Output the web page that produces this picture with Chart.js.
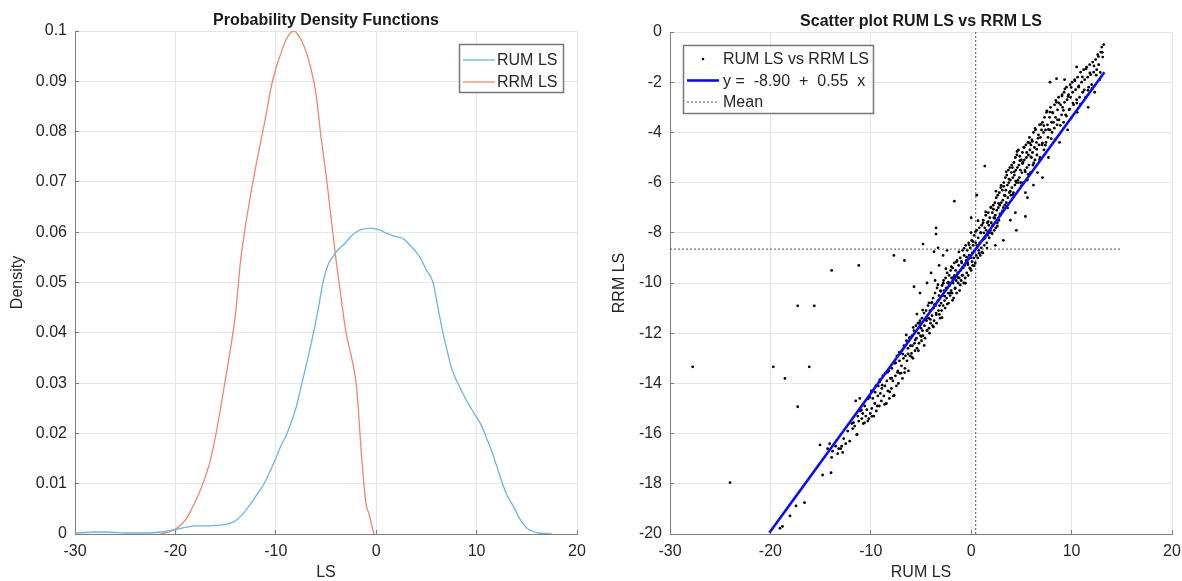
<!DOCTYPE html>
<html>
<head>
<meta charset="utf-8">
<title>RUM LS vs RRM LS</title>
<style>
  html, body { margin: 0; padding: 0; background: #fff; }
  body { width: 1182px; height: 581px; position: relative; overflow: hidden; }
  canvas { position: absolute; top: 0; }
  #pdfChart { left: 0; }
  #scatterChart { left: 591px; }
</style>
</head>
<body>
<canvas id="pdfChart" width="591" height="581"></canvas>
<canvas id="scatterChart" width="591" height="581"></canvas>
<script src="https://cdn.jsdelivr.net/npm/chart.js@4"></script>
<script>
// ---- data ----
const rumX = [-30,-29,-28,-27,-26,-25,-24,-23,-22,-21,-20,-19,-18,-17,-16,-15,-14.2,-13.5,-13,-12.5,-12,-11.2,-10.5,-10,-9.5,-8.9,-8,-7.4,-6.8,-6.25,-5.75,-5.3,-4.8,-4.3,-3.8,-3.2,-2.5,-2,-1.5,-0.5,0,0.5,1,1.5,2,2.7,3.4,4,4.5,5,5.66,6.15,6.65,7,7.5,8,8.5,9,9.5,10,10.5,11,11.5,12,12.6,13,13.7,14.3,15,15.5,16.2,17,17.5];
const rumDensity = [0.0002,0.0003,0.0004,0.0004,0.0003,0.0002,0.0002,0.0002,0.0003,0.0005,0.0009,0.0013,0.0016,0.0016,0.0017,0.0019,0.0024,0.0035,0.0047,0.006,0.0075,0.0099,0.0128,0.015,0.0175,0.0199,0.025,0.030,0.035,0.040,0.045,0.050,0.0535,0.0552,0.0565,0.0576,0.0592,0.060,0.0605,0.0608,0.0606,0.0603,0.0598,0.0594,0.0591,0.0587,0.0573,0.056,0.0545,0.0525,0.050,0.045,0.040,0.037,0.033,0.0305,0.0285,0.0265,0.0248,0.0232,0.0215,0.019,0.0165,0.0135,0.0099,0.0078,0.0054,0.003,0.0012,0.0006,0.0002,0.0001,0];

const rrmX = [-21.5,-21,-20.5,-20,-19.5,-19,-18.5,-18,-17.5,-17,-16.5,-16,-15.5,-15,-14.5,-14,-13.5,-13,-12.5,-12,-11.5,-11,-10.5,-10,-9.5,-9,-8.5,-8.2,-8,-7.5,-7,-6.5,-6,-5.5,-5,-4.5,-4,-3.5,-3,-2.5,-2,-1.75,-1.5,-1.25,-1,-0.75,-0.5,-0.3,-0.2];
const rrmDensity = [0,0.0002,0.0005,0.001,0.0017,0.0028,0.0045,0.0065,0.0088,0.0115,0.0148,0.0195,0.025,0.031,0.037,0.044,0.0545,0.0615,0.0675,0.073,0.078,0.083,0.0885,0.0925,0.0955,0.0982,0.0997,0.1,0.0998,0.0983,0.096,0.0925,0.0875,0.079,0.0715,0.063,0.0545,0.047,0.040,0.0355,0.030,0.024,0.0165,0.0105,0.0058,0.0042,0.0022,0.0006,0];

// [RUM LS, RRM LS]
const scatterPairs = [
  [-19.05,-19.77],[-18.8,-19.7],[-18.05,-19.28],[-17.45,-18.88],[-16.6,-18.75],[-14.8,-17.65],[-13.96,-17.56],[-13.9,-16.95],
  [-15.06,-16.45],[-14.3,-16.6],[-14.1,-16.4],[-13.8,-16.7],[-13.5,-16.5],[-13.3,-16.8],[-13.2,-16.6],[-13.0,-16.6],[-12.8,-16.75],
  [-12.9,-16.5],[-12.7,-16.2],[-12.5,-16.4],[-12.3,-15.9],[-12.1,-16.3],
  [-11.9,-15.6],[-11.8,-15.8],[-11.6,-15.7],[-11.5,-14.7],[-11.4,-16.05],[-11.3,-15.3],[-11.2,-15.5],[-11.1,-14.6],[-11.05,-15.1],
  [-10.9,-15.4],[-10.8,-15.2],[-10.75,-15.6],[-10.6,-14.9],[-10.5,-15.3],[-10.4,-15.05],[-10.3,-15.5],[-10.2,-15.4],[-10.1,-14.55],[-10.05,-15.2],
  [-9.95,-14.3],[-9.9,-15.0],[-9.8,-14.6],[-9.7,-15.3],[-9.6,-14.8],[-9.5,-14.1],[-9.45,-15.1],[-9.3,-14.5],[-9.25,-14.1],[-9.15,-14.9],[-9.1,-13.85],[-9.05,-14.4],
  [-8.95,-14.7],[-8.9,-14.2],[-8.8,-13.7],[-8.7,-14.5],[-8.6,-14.1],[-8.55,-13.6],[-8.45,-14.8],[-8.4,-13.9],[-8.3,-14.3],[-8.2,-13.5],[-8.15,-14.6],[-8.05,-13.8],
  [-7.95,-14.2],[-7.9,-13.4],[-7.8,-13.9],[-7.75,-14.5],[-7.6,-13.2],[-7.55,-13.7],[-7.45,-14.1],[-7.4,-12.9],[-7.3,-13.5],[-7.25,-14.0],[-7.15,-13.1],[-7.1,-13.6],[-7.05,-12.8],
  [-6.95,-13.3],[-6.9,-12.7],[-6.85,-13.8],[-6.75,-13.0],[-6.7,-12.5],[-6.6,-13.4],[-6.55,-12.9],[-6.45,-12.3],[-6.4,-13.1],[-6.3,-12.6],[-6.25,-13.5],[-6.15,-12.2],[-6.1,-12.9],[-6.05,-12.5],
  [-5.95,-12.8],[-5.9,-12.1],[-5.85,-12.5],[-5.8,-13.0],[-5.7,-11.9],[-5.65,-12.4],[-5.6,-12.7],[-5.5,-11.7],[-5.45,-12.2],[-5.4,-12.6],[-5.3,-11.6],[-5.25,-12.0],[-5.2,-12.4],[-5.1,-11.5],[-5.05,-12.1],[-5.0,-11.8],
  [-4.95,-12.3],[-4.9,-11.4],[-4.85,-11.9],[-4.8,-12.1],[-4.7,-11.2],[-4.65,-11.7],[-4.6,-12.2],[-4.5,-11.1],[-4.45,-11.5],[-4.4,-11.9],[-4.3,-10.9],[-4.25,-11.4],[-4.2,-11.8],[-4.15,-12.0],[-4.1,-11.1],[-4.05,-11.6],
  [-3.95,-10.8],[-3.9,-11.3],[-3.85,-11.7],[-3.8,-10.6],[-3.75,-11.0],[-3.7,-11.5],[-3.6,-10.4],[-3.55,-10.9],[-3.5,-11.2],[-3.45,-11.6],[-3.4,-10.2],[-3.3,-10.7],[-3.25,-11.1],[-3.2,-10.5],[-3.15,-10.9],[-3.1,-11.4],[-3.05,-10.3],[-3.0,-10.8],
  [-2.95,-11.1],[-2.9,-10.1],[-2.85,-10.5],[-2.8,-10.9],[-2.75,-9.9],[-2.7,-10.3],[-2.65,-10.7],[-2.6,-11.0],[-2.55,-9.8],[-2.5,-10.2],[-2.45,-10.6],[-2.4,-9.6],[-2.35,-10.0],[-2.3,-10.4],[-2.25,-10.8],[-2.2,-9.7],[-2.15,-10.1],[-2.1,-10.5],[-2.05,-9.5],[-2.0,-10.3],
  [-1.95,-9.8],[-1.9,-10.4],[-1.85,-9.4],[-1.8,-10.0],[-1.75,-10.6],[-1.7,-9.2],[-1.65,-9.7],[-1.6,-10.2],[-1.55,-9.5],[-1.5,-9.9],[-1.45,-10.4],[-1.4,-9.1],[-1.35,-9.6],[-1.3,-10.0],[-1.25,-9.3],[-1.2,-9.8],[-1.15,-10.3],[-1.1,-9.0],[-1.05,-9.5],[-1.0,-9.9],
  [-0.95,-9.2],[-0.9,-9.7],[-0.85,-8.7],[-0.8,-9.4],[-0.75,-10.0],[-0.7,-8.9],[-0.65,-9.3],[-0.6,-9.8],[-0.55,-8.5],[-0.5,-9.1],[-0.45,-9.6],[-0.4,-8.7],[-0.35,-9.2],[-0.3,-9.7],[-0.25,-8.4],[-0.2,-8.9],[-0.15,-9.4],[-0.1,-8.6],[-0.05,-9.0],[0.0,-9.5],
  [0.05,-8.3],[0.1,-8.8],[0.15,-9.3],[0.2,-8.5],[0.25,-9.0],[0.3,-8.1],[0.35,-8.7],[0.4,-9.2],[0.45,-8.4],[0.5,-8.9],[0.55,-7.9],[0.6,-8.5],[0.65,-9.0],[0.7,-8.2],[0.75,-8.7],[0.8,-7.8],[0.85,-8.4],[0.9,-8.9],[0.95,-8.0],[1.0,-8.6],
  [1.05,-7.7],[1.1,-8.3],[1.15,-8.8],[1.2,-7.5],[1.25,-8.0],[1.3,-8.5],[1.35,-7.8],[1.4,-8.2],[1.45,-7.3],[1.5,-7.9],[1.55,-8.4],[1.6,-7.6],[1.65,-8.1],[1.7,-7.2],[1.75,-7.7],[1.8,-8.2],[1.85,-7.4],[1.9,-7.9],[1.95,-7.0],[2.0,-7.6],
  [2.05,-8.0],[2.1,-7.2],[2.15,-7.7],[2.2,-6.9],[2.25,-7.4],[2.3,-7.9],[2.35,-6.8],[2.4,-7.3],[2.45,-7.8],[2.5,-6.6],[2.55,-7.1],[2.6,-7.6],[2.65,-6.5],[2.7,-7.0],[2.75,-7.5],[2.8,-6.4],[2.85,-6.9],[2.9,-7.3],[2.95,-6.2],[3.0,-6.8],
  [3.05,-7.2],[3.1,-6.3],[3.15,-6.7],[3.2,-7.0],[3.25,-6.0],[3.3,-6.5],[3.35,-6.9],[3.4,-5.8],[3.45,-6.3],[3.5,-6.8],[3.55,-5.7],[3.6,-6.1],[3.65,-6.6],[3.7,-5.5],[3.75,-6.0],[3.8,-6.4],[3.85,-5.4],[3.9,-5.9],[3.95,-6.5],[4.0,-5.6],
  [4.05,-6.2],[4.1,-5.4],[4.15,-5.8],[4.2,-6.4],[4.25,-5.2],[4.3,-5.7],[4.35,-6.1],[4.4,-5.0],[4.45,-5.5],[4.5,-6.0],[4.55,-4.9],[4.6,-5.4],[4.65,-5.9],[4.7,-4.7],[4.75,-5.3],[4.8,-5.8],[4.85,-4.95],[4.9,-5.5],[4.95,-6.0],[5.0,-5.1],
  [5.05,-5.6],[5.1,-4.8],[5.15,-5.2],[5.2,-6.0],[5.25,-4.6],[5.3,-5.1],[5.35,-5.5],[5.4,-6.4],[5.45,-4.5],[5.5,-5.0],[5.55,-5.4],[5.6,-5.9],[5.65,-4.4],[5.7,-4.9],[5.75,-5.3],[5.8,-4.2],[5.85,-4.7],[5.9,-5.6],[5.95,-4.5],[6.0,-5.0],
  [6.05,-4.3],[6.1,-4.8],[6.15,-5.3],[6.2,-4.0],[6.3,-4.6],[6.35,-5.1],[6.4,-3.9],[6.5,-4.4],[6.55,-4.9],[6.6,-5.6],[6.7,-4.1],[6.75,-4.5],[6.8,-3.7],[6.85,-5.0],[6.9,-4.2],[7.0,-3.9],
  [7.05,-4.5],[7.1,-3.6],[7.2,-4.0],[7.25,-4.7],[7.3,-3.4],[7.4,-3.9],[7.45,-4.4],[7.5,-3.2],[7.6,-3.7],[7.65,-4.2],[7.7,-5.0],[7.8,-3.4],[7.85,-3.9],[7.9,-3.0],[8.0,-3.6],
  [8.05,-4.0],[8.1,-3.2],[8.2,-3.6],[8.3,-2.9],[8.35,-4.3],[8.4,-3.4],[8.5,-2.8],[8.55,-3.7],[8.6,-3.1],[8.7,-2.6],[8.75,-3.5],[8.8,-4.4],[8.9,-2.9],[9.0,-3.3],
  [9.05,-2.5],[9.1,-3.0],[9.2,-3.6],[9.25,-2.4],[9.3,-2.8],[9.4,-3.3],[9.5,-2.2],[9.55,-2.7],[9.6,-3.9],[9.7,-2.5],[9.75,-3.1],[9.85,-2.1],[9.9,-2.6],[10.0,-3.4],
  [10.05,-2.0],[10.1,-2.4],[10.2,-2.9],[10.3,-1.9],[10.4,-2.3],[10.5,-2.7],[10.55,-3.2],[10.6,-1.8],[10.7,-2.2],[10.8,-2.6],[10.9,-1.6],[11.0,-2.0],
  [11.1,-2.4],[11.2,-1.5],[11.3,-1.9],[11.4,-2.6],[11.5,-1.4],[11.6,-1.8],[11.65,-3.0],[11.7,-2.2],[11.8,-1.3],[11.9,-1.7],[12.0,-2.1],
  [12.1,-1.2],[12.2,-1.6],[12.3,-2.4],[12.4,-1.1],[12.5,-1.5],[12.6,-0.9],[12.7,-1.3],[12.8,-1.9],[12.9,-0.8],[13.0,-0.6],[13.1,-1.0],[13.2,-0.5],
  [-11.72,-15.56],[-11.37,-16.03],[-10.94,-15.06],[-10.63,-15.57],[-10.27,-14.62],[-9.88,-15.31],[-9.57,-14.35],[-9.36,-14.9],[-9.12,-13.93],
  [-8.87,-14.07],[-8.62,-14.83],[-8.33,-13.56],[-8.11,-14.34],[-7.93,-13.79],[-7.68,-14.47],[-7.52,-13.18],[-7.34,-13.56],[-7.17,-12.76],[-6.98,-13.59],
  [-6.81,-12.83],[-6.63,-13.57],[-6.47,-12.07],[-6.29,-12.82],[-6.12,-12.17],
  [-5.93,-12.94],[-5.77,-11.77],[-5.58,-12.27],[-5.41,-11.24],[-5.26,-12.7],[-5.12,-11.61],[-4.97,-12.13],[-4.83,-11.08],[-4.68,-12.49],[-4.54,-11.45],
  [-4.39,-11.89],[-4.21,-10.79],[-4.07,-11.45],[-3.92,-10.77],[-3.76,-11.75],[-3.63,-10.85],[-3.48,-11.26],[-3.31,-10.07],[-3.17,-11.25],[-3.04,-10.33],
  [-2.91,-11.38],[-2.78,-10.01],[-2.64,-10.52],[-2.52,-9.43],[-2.39,-10.84],[-2.27,-9.97],[-2.13,-10.4],[-1.98,-9.35],[-1.86,-10.69],[-1.73,-9.76],
  [-1.61,-10.22],[-1.47,-9.16],[-1.34,-9.78],[-1.22,-8.76],[-1.09,-10.08],[-0.96,-9.14],[-0.84,-9.69],[-0.71,-8.62],[-0.58,-10.01],[-0.46,-8.97],
  [-0.33,-9.27],[-0.21,-8.48],[-0.08,-9.43],[-0.02,-7.99],
  [0.09,-9.15],[0.18,-8.35],[0.31,-9.31],[0.42,-7.96],[0.57,-8.59],[0.68,-7.52],[0.79,-8.81],[0.93,-7.99],[1.07,-8.77],[1.18,-7.61],
  [1.31,-8.24],[1.44,-7.17],[1.58,-8.61],[1.69,-7.56],[1.82,-8.0],[1.96,-6.98],[2.09,-8.04],[2.21,-7.06],[2.34,-7.42],[2.47,-6.34],
  [2.61,-7.73],[2.73,-6.83],[2.86,-7.25],[2.98,-6.11],
  [3.12,-7.13],[3.24,-6.15],[3.37,-6.52],[3.49,-5.57],[3.62,-7.01],[3.76,-5.86],[3.88,-6.34],[4.03,-5.3],[4.16,-6.47],[4.29,-5.57],
  [4.43,-5.94],[4.57,-4.76],[4.71,-6.0],[4.84,-5.13],[4.98,-6.13],[5.11,-5.24],[5.26,-4.59],[5.39,-5.57],[5.53,-4.8],[5.67,-5.67],
  [5.81,-4.42],[5.94,-4.98],
  [6.08,-4.36],[6.23,-5.22],[6.37,-3.84],[6.52,-4.67],[6.66,-4.23],[6.81,-5.09],[6.94,-3.68],[7.09,-4.43],[7.23,-3.73],[7.38,-4.51],
  [7.54,-3.14],[7.69,-3.88],[7.83,-3.19],[7.97,-4.25],[8.14,-3.23],[8.28,-3.83],[8.43,-2.73],[8.59,-3.5],[8.74,-2.82],[8.88,-3.72],
  [9.04,-2.55],[9.18,-3.12],[9.33,-2.27],[9.49,-3.35],[9.64,-2.57],[9.81,-3.07],[9.96,-2.21],
  [10.14,-2.83],[10.33,-1.95],[10.52,-2.83],[10.71,-2.15],[10.89,-2.87],[11.07,-1.79],[11.26,-2.31],[11.44,-1.47],[11.63,-2.32],[11.82,-1.63],
  [12.04,-2.24],[12.23,-1.35],[12.45,-1.72],[12.67,-0.98],[12.86,-1.61],[13.05,-0.81],
  [7.85,-2.0],[8.5,-1.86],[9.3,-1.9],[10.5,-1.39],
  [1.35,-5.34],[-1.68,-6.74],[0.55,-6.5],[0.0,-7.4],[-3.5,-7.8],[-3.5,-8.05],[-7.7,-8.9],[-6.65,-9.1],[-5.7,-10.15],[-5.1,-10.4],
  [-11.2,-9.3],[-13.9,-9.5],[-4.8,-8.45],[-3.7,-8.75],[-3.3,-8.6],[-4.0,-9.6],[-3.2,-9.3],[-2.8,-8.9],[-2.4,-8.7],[-3.6,-9.9],[-4.4,-10.0],
  [6.2,-6.1],[7.1,-5.8],[5.6,-6.6],[3.5,-7.0],[3.9,-7.5],[4.4,-7.2],[5.4,-7.35],[2.4,-8.5],[3.2,-8.3],[4.5,-7.9],
  [-27.74,-13.34],[-19.71,-13.34],[-18.55,-13.8],[-17.28,-10.91],[-15.63,-10.91],[-16.13,-13.34],[-17.28,-14.93],[-24.02,-17.95]
];

const fitB0 = -8.90;
const fitB1 = 0.55;
const fitLineX = [-20.1, 13.27];
const fitLineY = [-19.95, -1.6];
const meanRum = 0.45;
const meanRrm = -8.65;

// ---- styling ----
const FONT = '"Liberation Sans", Arial, Helvetica, sans-serif';
const TEXT = '#262626';
const AXIS = '#7d7d7d';
const GRID = '#e6e6e6';
const BLUE_PDF = '#6db3e3';
const ORANGE_PDF = '#f0876a';

function toPoints(xs, ys) { return xs.map((x, i) => ({ x: x, y: ys[i] })); }

function axis(min, max, step, title, titlePad, isY, fmt) {
  return {
    type: 'linear', min: min, max: max,
    ticks: { stepSize: step, padding: 12, color: TEXT, font: { family: FONT, size: 16 },
             maxRotation: 0, autoSkip: false, callback: fmt },
    grid: { color: GRID, lineWidth: 1, drawTicks: true, tickLength: -4, tickColor: AXIS, tickWidth: 1 },
    border: { color: AXIS, width: 1 },
    title: { display: true, text: title, color: TEXT, font: { family: FONT, size: 16, lineHeight: 1 }, padding: titlePad },
    afterFit: s => {
      if (isY) { s.width = s.chart.options.layout.padding.axisW; s.paddingTop = 0; s.paddingBottom = 0; }
      else { s.height = 47; s.paddingLeft = 0; s.paddingRight = 0; }
    }
  };
}

// title + legend drawn inside the axes, MATLAB style
function decor(title, legend) {
  return {
    id: 'decor',
    afterDraw(chart) {
      const ctx = chart.ctx, a = chart.chartArea;
      ctx.save();
      ctx.font = 'bold 16px ' + FONT;
      ctx.fillStyle = '#1a1a1a';
      ctx.textAlign = 'center';
      ctx.textBaseline = 'middle';
      ctx.fillText(title, (a.left + a.right) / 2, a.top - 10);

      const bx = legend.right !== undefined ? a.right - legend.right - legend.w : a.left + legend.left;
      const by = a.top + legend.top;
      ctx.fillStyle = '#fff';
      ctx.fillRect(bx, by, legend.w, legend.h);
      ctx.strokeStyle = '#767676';
      ctx.lineWidth = 1.5;
      ctx.strokeRect(bx + 0.5, by + 0.5, legend.w, legend.h);
      ctx.font = '16px ' + FONT;
      ctx.textAlign = 'left';
      legend.rows.forEach((r, i) => {
        const ry = by + legend.firstRow + i * legend.rowGap;
        const x1 = bx + 4, x2 = bx + 36;
        ctx.strokeStyle = r.color;
        ctx.fillStyle = r.color;
        ctx.lineWidth = r.width || 1;
        if (r.kind === 'dot') {
          ctx.beginPath(); ctx.arc((x1 + x2) / 2, ry, 1.3, 0, Math.PI * 2); ctx.fill();
        } else {
          ctx.setLineDash(r.kind === 'dotted' ? [2, 2] : []);
          ctx.beginPath(); ctx.moveTo(x1, ry); ctx.lineTo(x2, ry); ctx.stroke();
          ctx.setLineDash([]);
        }
        ctx.fillStyle = TEXT;
        ctx.fillText(r.text, bx + legend.textX, ry + 1);
      });
      ctx.restore();
    }
  };
}

const common = {
  responsive: false,
  animation: false,
  events: [],
  plugins: { legend: { display: false }, tooltip: { enabled: false }, title: { display: false } }
};

// ---- left: probability density functions ----
new Chart(document.getElementById('pdfChart'), {
  type: 'scatter',
  data: {
    datasets: [
      { label: 'RUM LS', data: toPoints(rumX, rumDensity), showLine: true, borderColor: BLUE_PDF, borderWidth: 1.3,
        pointRadius: 0, tension: 0.3, cubicInterpolationMode: 'monotone' },
      { label: 'RRM LS', data: toPoints(rrmX, rrmDensity), showLine: true, borderColor: ORANGE_PDF, borderWidth: 1.3,
        pointRadius: 0, tension: 0.3, cubicInterpolationMode: 'monotone' }
    ]
  },
  options: Object.assign({}, common, {
    layout: { padding: { left: 0, right: 14, top: 31, bottom: 0, axisW: 75 } },
    scales: {
      x: axis(-30, 20, 10, 'LS', { top: 0, bottom: 0 }, false),
      y: axis(0, 0.1, 0.01, 'Density', { top: 10, bottom: 0 }, true, v => String(+v.toFixed(2)))
    }
  }),
  plugins: [decor('Probability Density Functions', {
    right: 14, top: 13, w: 104, h: 48, firstRow: 16, rowGap: 22, textX: 38,
    rows: [
      { kind: 'line', color: BLUE_PDF, width: 1.3, text: 'RUM LS' },
      { kind: 'line', color: ORANGE_PDF, width: 1.3, text: 'RRM LS' }
    ]
  })]
});

// ---- right: scatter RUM LS vs RRM LS ----
const fitLabel = 'y =  ' + fitB0.toFixed(2) + '  +  ' + fitB1.toFixed(2) + '  x';
new Chart(document.getElementById('scatterChart'), {
  type: 'scatter',
  data: {
    datasets: [
      { label: 'RUM LS vs RRM LS', data: scatterPairs.map(p => ({ x: p[0], y: p[1] })), order: 3,
        pointRadius: 1.4, pointBorderWidth: 0, pointBackgroundColor: '#000', backgroundColor: '#000' },
      { label: fitLabel, data: toPoints(fitLineX, fitLineY), order: 1, showLine: true,
        borderColor: '#0a0aff', borderWidth: 2.6, pointRadius: 0 },
      { label: 'Mean', data: [{ x: -30, y: meanRrm }, { x: 15, y: meanRrm }], order: 2, showLine: true,
        borderColor: '#555', borderWidth: 1, borderDash: [2, 2], pointRadius: 0 },
      { label: 'Mean', data: [{ x: meanRum, y: -20 }, { x: meanRum, y: 0 }], order: 2, showLine: true,
        borderColor: '#555', borderWidth: 1, borderDash: [2, 2], pointRadius: 0 }
    ]
  },
  options: Object.assign({}, common, {
    layout: { padding: { left: 0, right: 10, top: 32, bottom: 0, axisW: 79 } },
    scales: {
      x: axis(-30, 20, 10, 'RUM LS', { top: 0, bottom: 0 }, false),
      y: axis(-20, 0, 2, 'RRM LS', { top: 21, bottom: 0 }, true)
    }
  }),
  plugins: [decor('Scatter plot RUM LS vs RRM LS', {
    left: 13, top: 13, w: 190, h: 68, firstRow: 14, rowGap: 21.5, textX: 40,
    rows: [
      { kind: 'dot', color: '#000', text: 'RUM LS vs RRM LS' },
      { kind: 'line', color: '#0a0aff', width: 2.6, text: fitLabel },
      { kind: 'dotted', color: '#555', width: 1, text: 'Mean' }
    ]
  })]
});
</script>
</body>
</html>
